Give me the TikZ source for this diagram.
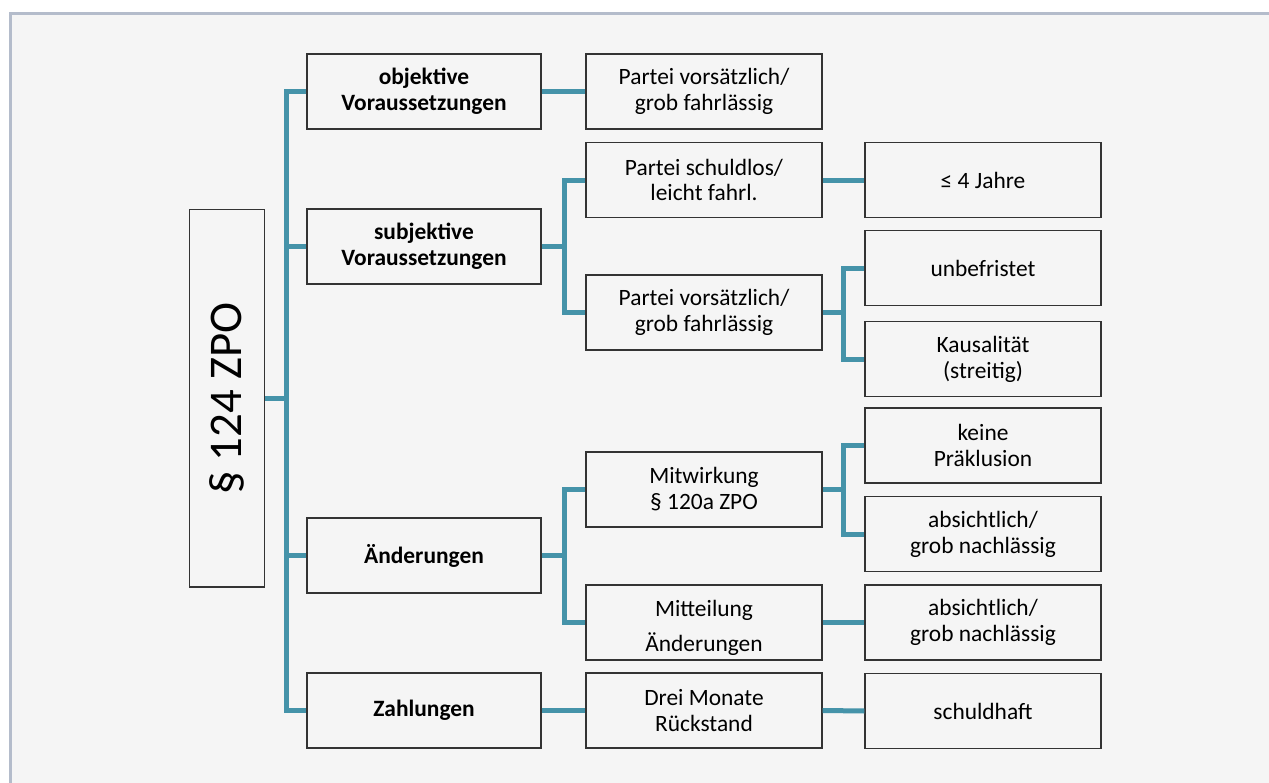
\documentclass[tikz,border=0pt]{standalone}
\usepackage{fontspec}
\setmainfont{Carlito}
\definecolor{tealc}{HTML}{4593A9}
\definecolor{bgc}{HTML}{F5F5F5}
\definecolor{framec}{HTML}{B4BCCB}
\definecolor{boxc}{HTML}{333333}
\begin{document}
\begin{tikzpicture}[x=1bp,y=-1bp,
  box/.style={draw=boxc, line width=1.4bp, fill=bgc, minimum width=236bp, minimum height=75bp,
    inner sep=0pt, align=center, font=\fontsize{23.5}{26}\selectfont},
  lone/.style={box, minimum width=234bp, font=\fontsize{23.5}{26}\selectfont\bfseries},
  txt/.style={inner sep=0pt, align=center, font=\fontsize{23.5}{26}\selectfont},
  conn/.style={draw=tealc, line width=5bp, line join=miter}]
\useasboundingbox (0,0) rectangle (1269,783);
\fill[white] (0,0) rectangle (1269,783);
\fill[bgc] (10,13) rectangle (1269,783);
\draw[framec, line width=3bp] (10.5,783) -- (10.5,13.5) -- (1269,13.5);

\coordinate (tr) at (286,0);
\coordinate (b1) at (564,0);
\coordinate (b2) at (843,0);

% root
\node[box, minimum width=75bp, minimum height=377bp] (root) at (227.2,398.3) {};
\node[rotate=90, inner sep=0pt, font=\fontsize{47}{52}\selectfont] (roottext) at (226.5,398.5) {§ 124 ZPO};

% level 1
\node[lone] (obj) at (424,91.5) {objektive\\Voraussetzungen};
\node[lone] (subj) at (424,246.5) {subjektive\\Voraussetzungen};
\node[lone] (aend) at (424,555.5) {Änderungen};
\node[lone] (zahl) at (424,710.5) {Zahlungen};

% level 2
\node[box] (pv1) at (704,91.5) {Partei vorsätzlich/\\grob fahrlässig};
\node[box] (ps) at (704,180) {Partei schuldlos/\\leicht fahrl.};
\node[box] (pv2) at (704,312.5) {Partei vorsätzlich/\\grob fahrlässig};
\node[box] (mitw) at (704,489.5) {Mitwirkung\\§ 120a ZPO};
\node[box] (mitt) at (704,622.5) {};
\node[txt] (mitttxt) at (704,628) {Mitteilung\\[9bp]Änderungen};
\node[box] (drei) at (704,710.5) {Drei Monate\\Rückstand};

% level 3
\node[box] (vier) at (983,180) {≤ 4 Jahre};
\node[box] (unb) at (983,268) {unbefristet};
\node[box] (kaus) at (983,359) {Kausalität\\(streitig)};
\node[box] (kein) at (983,445.5) {keine\\Präklusion};
\node[box] (abs1) at (983,534) {absichtlich/\\grob nachlässig};
\node[box] (abs2) at (983,622.5) {absichtlich/\\grob nachlässig};
\node[box] (schuld) at (983,711) {schuldhaft};

% connectors
\draw[conn] (root.east) -- (root.east -| tr);
\draw[conn] (obj.west) -- (obj.west -| tr) -- (zahl.west -| tr) -- (zahl.west);
\draw[conn] (subj.west) -- (subj.west -| tr);
\draw[conn] (aend.west) -- (aend.west -| tr);

\draw[conn] (obj.east) -- (pv1.west);
\draw[conn] (subj.east) -- (subj.east -| b1);
\draw[conn] (ps.west) -- (ps.west -| b1) -- (pv2.west -| b1) -- (pv2.west);
\draw[conn] (aend.east) -- (aend.east -| b1);
\draw[conn] (mitw.west) -- (mitw.west -| b1) -- (mitt.west -| b1) -- (mitt.west);
\draw[conn] (zahl.east) -- (drei.west);

\draw[conn] (ps.east) -- (vier.west);
\draw[conn] (pv2.east) -- (pv2.east -| b2);
\draw[conn] (unb.west) -- (unb.west -| b2) -- (kaus.west -| b2) -- (kaus.west);
\draw[conn] (mitw.east) -- (mitw.east -| b2);
\draw[conn] (kein.west) -- (kein.west -| b2) -- (abs1.west -| b2) -- (abs1.west);
\draw[conn] (mitt.east) -- (abs2.west);
\draw[conn] (drei.east) -- (schuld.west);
\end{tikzpicture}
\end{document}
